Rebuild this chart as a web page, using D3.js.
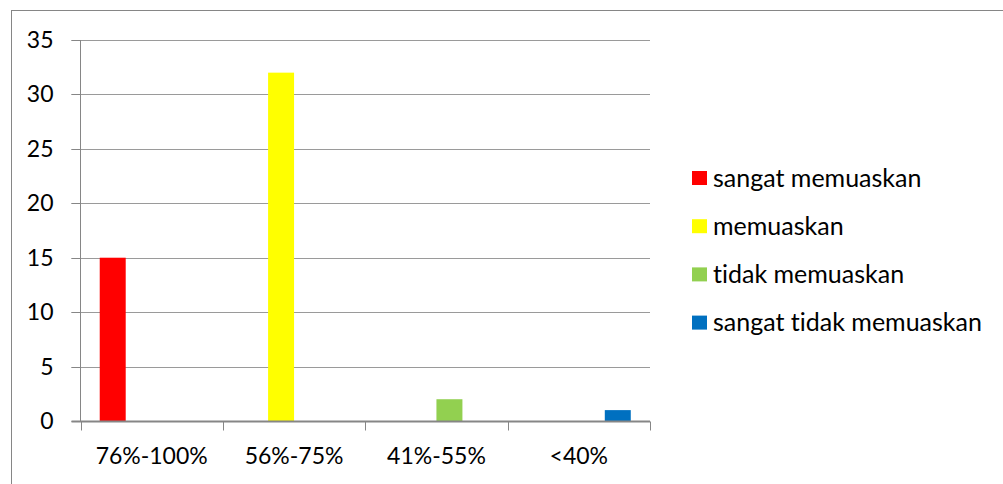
<!DOCTYPE html>
<html>
<head>
<meta charset="utf-8">
<script src="https://cdn.jsdelivr.net/npm/d3@7/dist/d3.min.js"></script>
<style>
  html, body { margin: 0; padding: 0; background: #fff; }
  svg { display: block; }
  text { font-family: Lato, "Open Sans", sans-serif; fill: #000; font-variant-ligatures: none; font-feature-settings: "liga" 0, "clig" 0; }
</style>
</head>
<body>
<svg id="chart" width="1003" height="484"></svg>
<script>
// Score ranges on the x axis
const categories = ["76%-100%", "56%-75%", "41%-55%", "<40%"];
// Rating series, one value per range
const seriesNames = ["sangat memuaskan", "memuaskan", "tidak memuaskan", "sangat tidak memuaskan"];
const sangatMemuaskan = [15, 0, 0, 0];
const memuaskan = [0, 32, 0, 0];
const tidakMemuaskan = [0, 0, 2, 0];
const sangatTidakMemuaskan = [0, 0, 0, 1];
const seriesColors = ["#FF0000", "#FFFF00", "#92D050", "#0070C0"];
const yTicks = [0, 5, 10, 15, 20, 25, 30, 35];

const seriesValues = [sangatMemuaskan, memuaskan, tidakMemuaskan, sangatTidakMemuaskan];

const svg = d3.select("#chart");

// Chart frame
svg.append("rect")
  .attr("x", 11.5).attr("y", 10.5)
  .attr("width", 1100).attr("height", 600)
  .attr("fill", "none").attr("stroke", "#868686").attr("stroke-width", 1);

const plot = { left: 80.5, right: 650, top: 40, bottom: 421 };

const x0 = d3.scaleBand()
  .domain(categories)
  .range([plot.left, plot.right])
  .paddingInner(0).paddingOuter(0);

// gap width of 150% between clusters
const x1 = d3.scaleBand()
  .domain(seriesNames)
  .range([0, x0.bandwidth()])
  .paddingInner(0)
  .paddingOuter(0.74);

const y = d3.scaleLinear().domain([0, 35]).range([plot.bottom, plot.top]);

// Horizontal gridlines
svg.append("g")
  .selectAll("line")
  .data(yTicks.filter(d => d > 0))
  .join("line")
  .attr("x1", plot.left - 9).attr("x2", plot.right)
  .attr("y1", d => Math.round(y(d)) + 0.5).attr("y2", d => Math.round(y(d)) + 0.5)
  .attr("stroke", "#9a9a9a").attr("stroke-width", 1);

// Bars
const groups = svg.append("g")
  .selectAll("g")
  .data(seriesNames.map((name, i) => ({ name, color: seriesColors[i], values: seriesValues[i] })))
  .join("g")
  .attr("fill", d => d.color);

groups.selectAll("rect")
  .data(d => d.values.map((v, j) => ({ name: d.name, cat: categories[j], v })))
  .join("rect")
  .filter(d => d.v > 0)
  .attr("x", d => x0(d.cat) + x1(d.name))
  .attr("width", x1.bandwidth())
  .attr("y", d => y(d.v))
  .attr("height", d => y(0) - y(d.v));

// Y axis
const yAxis = d3.axisLeft(y).tickValues(yTicks).tickSize(9).tickPadding(18).tickFormat(d3.format("d"));
const yg = svg.append("g")
  .attr("transform", `translate(${plot.left},0)`)
  .call(yAxis);
yg.select(".domain").attr("stroke", "#868686").attr("d", `M0,${plot.top}V${plot.bottom}`);
yg.selectAll(".tick line").attr("stroke", "#868686");
yg.selectAll(".tick text").attr("font-size", 23).style("font-family", "Lato, sans-serif").attr("fill", "#000");
yg.selectAll(".tick").attr("transform", d => `translate(0,${Math.round(y(d)) + 0.5})`);

// X axis with ticks between categories
const xg = svg.append("g").attr("transform", `translate(0,${plot.bottom + 0.5})`);
xg.append("line")
  .attr("x1", plot.left - 9).attr("x2", plot.right)
  .attr("stroke", "#868686").attr("stroke-width", 2);
xg.selectAll(".cat-tick")
  .data(categories.map(c => x0(c)).concat([plot.right]))
  .join("line")
  .attr("class", "cat-tick")
  .attr("x1", d => Math.round(d) + 0.5).attr("x2", d => Math.round(d) + 0.5)
  .attr("y1", 0).attr("y2", 9)
  .attr("stroke", "#868686").attr("stroke-width", 1);
xg.selectAll(".cat-label")
  .data(categories)
  .join("text")
  .attr("class", "cat-label")
  .attr("x", d => x0(d) + x0.bandwidth() / 2)
  .attr("y", 42)
  .attr("text-anchor", "middle")
  .attr("font-size", 23)
  .text(d => d);

// Legend
const legend = svg.append("g").attr("transform", "translate(692,171)");
const items = legend.selectAll("g")
  .data(seriesNames)
  .join("g")
  .attr("transform", (d, i) => `translate(0,${i * 48.2})`);
items.append("rect")
  .attr("width", 15).attr("height", 14)
  .attr("fill", (d, i) => seriesColors[i]);
items.append("text")
  .attr("x", 21).attr("y", 7)
  .attr("dy", "0.35em")
  .attr("font-size", 25)
  .text(d => d);
</script>
</body>
</html>
